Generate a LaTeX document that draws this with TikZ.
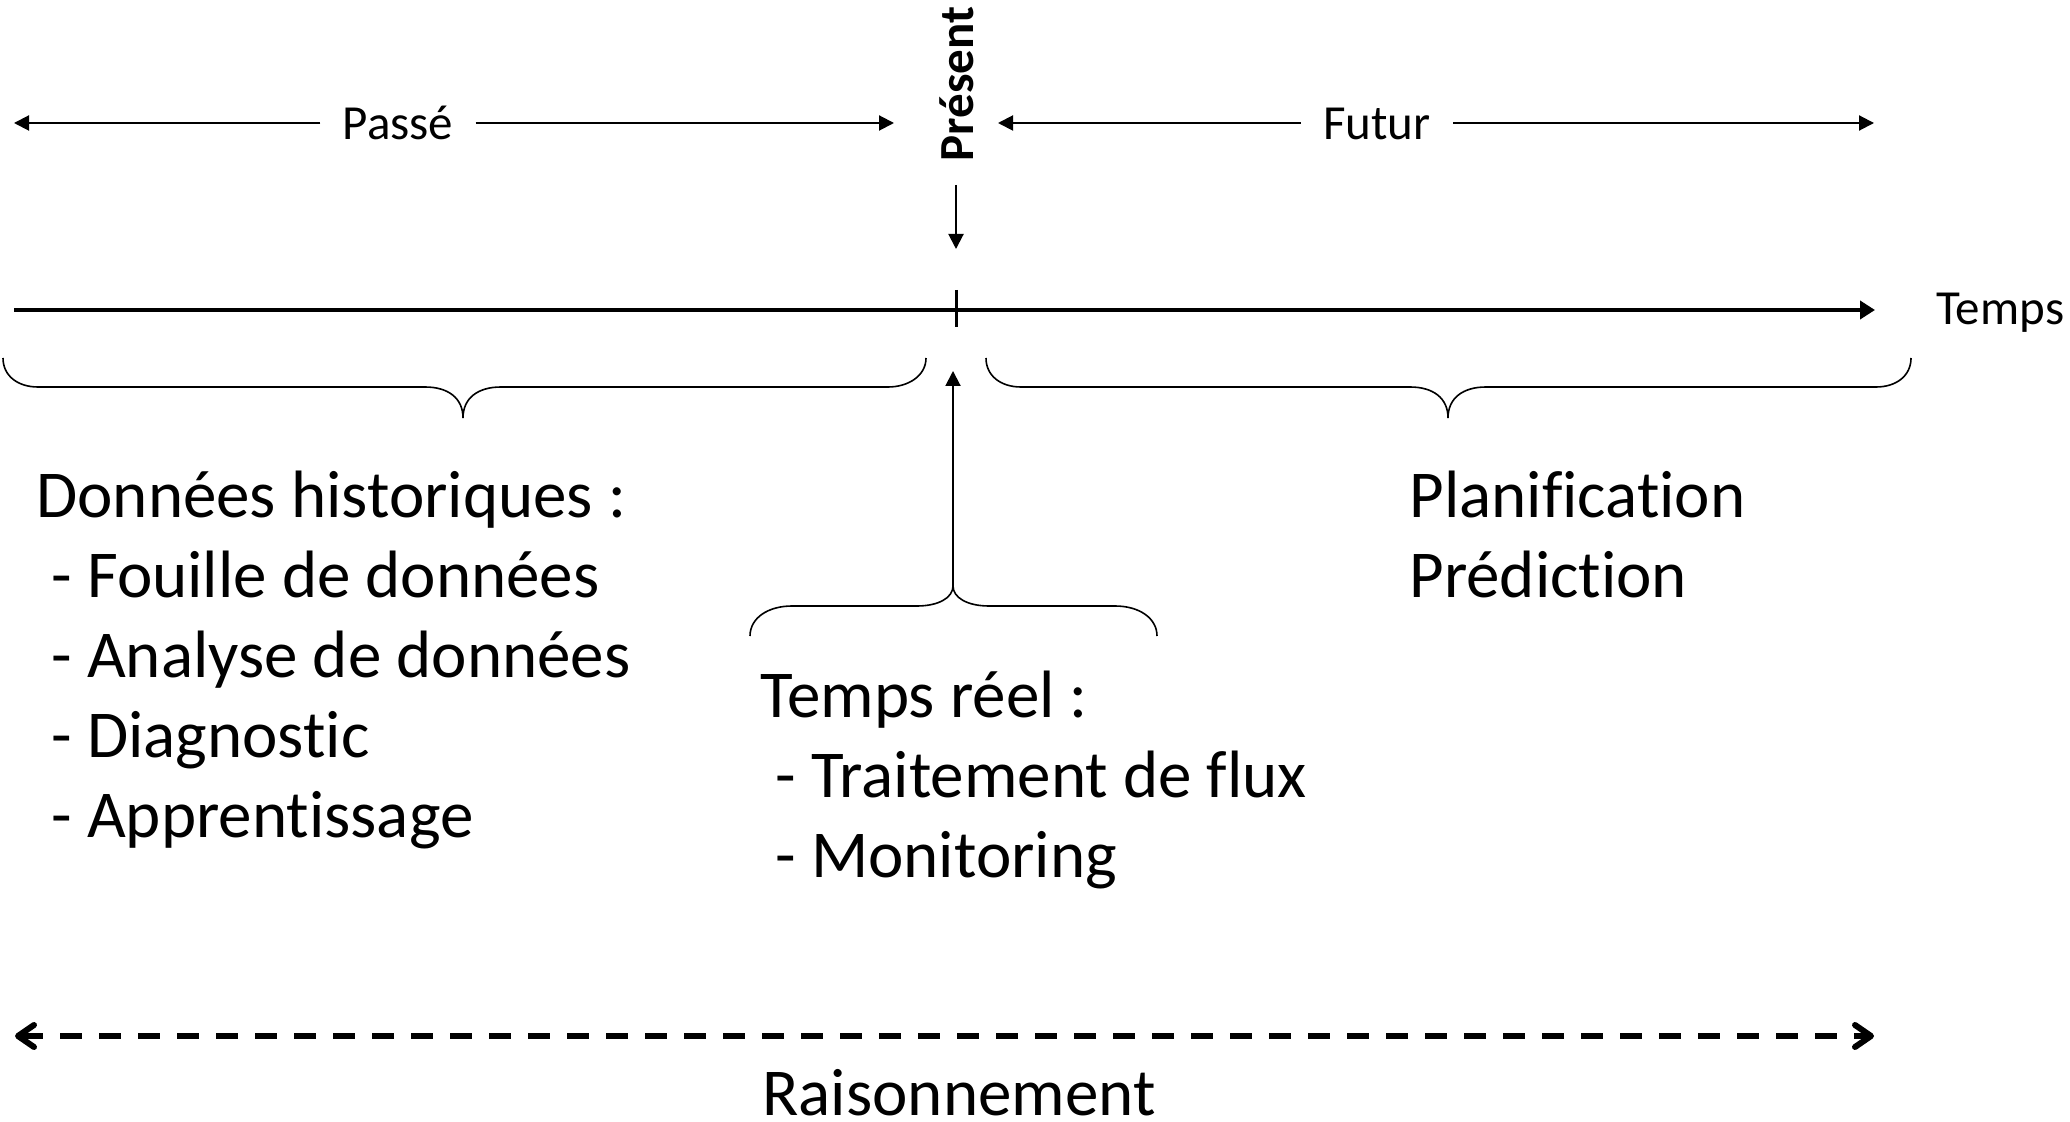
\documentclass[tikz,border=0pt]{standalone}
\usepackage{fontspec}
\setmainfont[Ligatures={NoCommon,NoRare,NoDiscretionary}]{Carlito}
\usetikzlibrary{arrows.meta}

\begin{document}
\begin{tikzpicture}[
    x=0.5pt, y=-0.5pt,
    thinarrow/.style={line width=1pt, -{Triangle[length=7.5pt,width=7.5pt]}},
    axisline/.style={line width=2.2pt, -{Triangle[length=7.5pt,width=9pt]}},
    bracestyle/.style={line width=0.8pt},
    reasonline/.style={line width=3pt, dash pattern=on 11pt off 8.5pt,
      {Straight Barb[length=8pt,width=11pt,line cap=round,line join=round]}-{Straight Barb[length=8pt,width=11pt,line cap=round,line join=round]}},
    smalltxt/.style={font=\fontsize{24.5pt}{29pt}\selectfont, inner sep=0pt},
    bigtxt/.style={font=\fontsize{33.5pt}{40pt}\selectfont, inner sep=0pt},
  ]
  \useasboundingbox (0,0) rectangle (2070,1122);

  % --- past / present / future labels ---
  \coordinate (pastL) at (14,123);
  \coordinate (pastR) at (894,123);
  \coordinate (futL) at (998,123);
  \coordinate (futR) at (1874,123);
  \node[smalltxt, anchor=base, inner xsep=11pt] (passe) at (398,140) {Passé};
  \node[smalltxt, anchor=base, inner xsep=11pt] (futur) at (1377,140) {Futur};
  \draw[thinarrow] (passe.west |- pastL) -- (pastL);
  \draw[thinarrow] (passe.east |- pastR) -- (pastR);
  \draw[thinarrow] (futur.west |- futL) -- (futL);
  \draw[thinarrow] (futur.east |- futR) -- (futR);

  \node[smalltxt, font=\fontsize{24.5pt}{29pt}\selectfont\bfseries, rotate=90, anchor=base] (present) at (973,84) {Présent};
  \coordinate (downStart) at (956,185);
  \coordinate (downEnd) at (956,249);
  \draw[thinarrow] (downStart) -- (downEnd);

  % --- time axis ---
  \coordinate (t0) at (14,310);
  \coordinate (t1) at (1875,310);
  \draw[axisline] (t0) -- (t1);
  \node[smalltxt, anchor=base west] (temps) at (1936,325) {Temps};
  \coordinate (tickTop) at (956,290);
  \coordinate (tickBot) at (956,327);
  \draw[line width=1.5pt] (tickTop) -- (tickBot);

  % --- braces ---
  \draw[bracestyle] (3,358) .. controls (3,376) and (18,387) .. (38,387) -- (425,387)
    .. controls (448,387) and (463,398) .. (463,418)
    .. controls (463,398) and (478,387) .. (501,387) -- (888,387)
    .. controls (908,387) and (926,376) .. (926,358);
  \draw[bracestyle] (986,358) .. controls (986,376) and (1001,387) .. (1021,387) -- (1410,387)
    .. controls (1433,387) and (1448,398) .. (1448,418)
    .. controls (1448,398) and (1463,387) .. (1486,387) -- (1876,387)
    .. controls (1896,387) and (1911,376) .. (1911,358);
  \coordinate (midtip) at (953,586);
  \draw[bracestyle] (750,636) .. controls (750,618) and (768,606) .. (792,606) -- (917,606)
    .. controls (938,606) and (953,598) .. (midtip)
    .. controls (953,598) and (968,606) .. (989,606) -- (1115,606)
    .. controls (1139,606) and (1157,618) .. (1157,636);
  \coordinate (nowUp) at (953,371);
  \draw[thinarrow] (midtip) -- (nowUp);

  % --- text blocks ---
  \node[bigtxt, anchor=base west] (hist) at (36,517) {\begin{tabular}[t]{@{}l@{}}
    Données historiques :\\
    \ - Fouille de données\\
    \ - Analyse de données\\
    \ - Diagnostic\\
    \ - Apprentissage
  \end{tabular}};
  \node[bigtxt, anchor=base west] (reel) at (760,717) {\begin{tabular}[t]{@{}l@{}}
    Temps réel :\\
    \ - Traitement de flux\\
    \ - Monitoring
  \end{tabular}};
  \node[bigtxt, anchor=base west] (plan) at (1409,517) {\begin{tabular}[t]{@{}l@{}}
    Planification\\
    Prédiction
  \end{tabular}};

  % --- reasoning span ---
  \coordinate (rL) at (15,1036);
  \coordinate (rR) at (1874,1036);
  \draw[reasonline] (rL) -- (rR);
  \node[bigtxt, anchor=base] (raison) at (959,1115) {Raisonnement};
\end{tikzpicture}
\end{document}
